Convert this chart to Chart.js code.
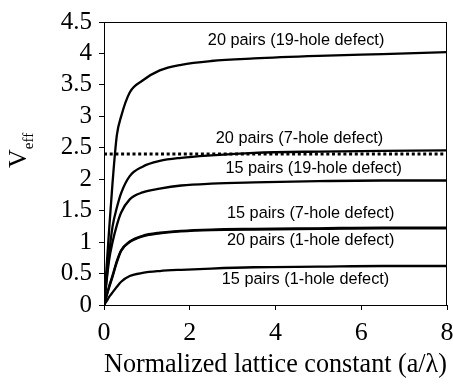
<!DOCTYPE html>
<html>
<head>
<meta charset="utf-8">
<script src="https://cdn.jsdelivr.net/npm/chart.js@4.4.1/dist/chart.umd.min.js"></script>
<style>
    html, body { margin: 0; padding: 0; background: #fff; }
    #wrap { width: 453px; height: 385px; position: relative; }
</style>
</head>
<body>
<div id="wrap"><canvas id="veffChart"></canvas></div>
<script>
// ============================================
// DATA
// ============================================
const lattice = [0, 0.08, 0.12, 0.2, 0.3, 0.4, 0.6, 0.9, 1.3, 1.8, 2.5, 3.5, 5, 6.5, 8];

const veff20p19h = [0, 0.8, 1.2, 1.95, 2.7, 3.0, 3.38, 3.57, 3.73, 3.82, 3.88, 3.92, 3.96, 3.99, 4.02];
const veff20p7h  = [0, 0.55, 0.82, 1.25, 1.55, 1.78, 2.05, 2.2, 2.29, 2.34, 2.38, 2.42, 2.44, 2.45, 2.46];
const veff15p19h = [0, 0.5, 0.72, 1.0, 1.27, 1.47, 1.68, 1.79, 1.85, 1.9, 1.93, 1.95, 1.97, 1.98, 1.98];
const veff15p7h  = [0, 0.19, 0.28, 0.45, 0.68, 0.86, 1.01, 1.1, 1.15, 1.18, 1.2, 1.21, 1.22, 1.23, 1.23];
const veff20p1h  = [0, 0.2, 0.3, 0.47, 0.7, 0.87, 1.0, 1.09, 1.14, 1.17, 1.19, 1.2, 1.21, 1.22, 1.22];
const veff15p1h  = [0, 0.08, 0.13, 0.2, 0.29, 0.37, 0.46, 0.51, 0.54, 0.56, 0.58, 0.6, 0.61, 0.62, 0.62];

const refLineX = [0, 8];
const refLineY = [2.4, 2.4];

// curve labels, placed in data coordinates
const labelText = [
    '20 pairs (19-hole defect)',
    '20 pairs (7-hole defect)',
    '15 pairs (19-hole defect)',
    '15 pairs (7-hole defect)',
    '20 pairs (1-hole defect)',
    '15 pairs (1-hole defect)'
];
const labelX = [4.48, 4.56, 4.89, 4.82, 4.82, 4.70];
const labelY = [4.20, 2.64, 2.17, 1.45, 1.02, 0.41];

const xTicks = [0, 2, 4, 6, 8];
const yTicks = [0, 0.5, 1, 1.5, 2, 2.5, 3, 3.5, 4, 4.5];

// ============================================
// HELPERS
// ============================================
const toPoints = (xs, ys) => xs.map((x, i) => ({ x: x, y: ys[i] }));

const curve = (label, values) => ({
    label: label,
    data: toPoints(lattice, values),
    borderColor: '#000',
    borderWidth: 2.3,
    pointRadius: 0,
    fill: false,
    cubicInterpolationMode: 'monotone'
});

const serif = "'Liberation Serif', 'Times New Roman', serif";

// frame + curve labels + y title with subscript
const decorations = {
    id: 'decorations',
    afterDraw(chart) {
        const { ctx, chartArea, scales } = chart;
        ctx.save();

        // box round the plot
        ctx.strokeStyle = '#000';
        ctx.lineWidth = 1;
        ctx.strokeRect(chartArea.left + 0.5, chartArea.top + 0.5,
            chartArea.right - chartArea.left - 1, chartArea.bottom - chartArea.top);

        // curve labels
        ctx.fillStyle = '#000';
        ctx.font = "16.3px 'Liberation Sans', Arial, sans-serif";
        ctx.textAlign = 'center';
        ctx.textBaseline = 'middle';
        labelText.forEach((t, i) => {
            ctx.fillText(t, scales.x.getPixelForValue(labelX[i]), scales.y.getPixelForValue(labelY[i]));
        });

        // y title: V with subscript eff
        ctx.translate(26, 168);
        ctx.rotate(-Math.PI / 2);
        ctx.textAlign = 'left';
        ctx.textBaseline = 'alphabetic';
        ctx.font = '26px ' + serif;
        ctx.fillText('V', 0, 0);
        const w = ctx.measureText('V').width;
        ctx.font = '15px ' + serif;
        ctx.fillText('eff', w, 7);

        ctx.restore();
    }
};

// ============================================
// CHART
// ============================================
document.addEventListener('DOMContentLoaded', () => {
    const ctx = document.getElementById('veffChart');

    new Chart(ctx, {
        type: 'line',
        data: {
            datasets: [
                curve('20 pairs (19-hole defect)', veff20p19h),
                curve('20 pairs (7-hole defect)', veff20p7h),
                curve('15 pairs (19-hole defect)', veff15p19h),
                curve('15 pairs (7-hole defect)', veff15p7h),
                curve('20 pairs (1-hole defect)', veff20p1h),
                curve('15 pairs (1-hole defect)', veff15p1h),
                {
                    label: 'reference',
                    data: toPoints(refLineX, refLineY),
                    borderColor: '#000',
                    borderWidth: 3,
                    borderDash: [3, 2.7],
                    pointRadius: 0,
                    fill: false
                }
            ]
        },
        options: {
            responsive: true,
            maintainAspectRatio: false,
            animation: false,
            layout: { padding: { top: 22, right: 6, left: 0, bottom: 0 } },
            plugins: {
                legend: { display: false },
                tooltip: { enabled: false }
            },
            scales: {
                x: {
                    type: 'linear',
                    min: 0,
                    max: 8,
                    afterFit: (s) => {
                        s.height = 80;
                        s.paddingLeft = 0;
                        s.paddingRight = 6;
                    },
                    afterBuildTicks: (s) => { s.ticks = xTicks.map(v => ({ value: v })); },
                    grid: { drawOnChartArea: false, drawTicks: true, tickLength: 5, color: '#000' },
                    border: { display: true, color: '#000', width: 1 },
                    ticks: {
                        color: '#000',
                        padding: 8,
                        maxRotation: 0,
                        autoSkip: false,
                        font: { family: serif, size: 26 }
                    },
                    title: {
                        display: true,
                        text: 'Normalized lattice constant (a/λ)',
                        color: '#000',
                        padding: { top: 0, bottom: 4 },
                        font: { family: serif, size: 27.5 }
                    }
                },
                y: {
                    min: 0,
                    max: 4.5,
                    afterFit: (s) => {
                        s.width = 104;
                        s.paddingTop = 0;
                        s.paddingBottom = 0;
                    },
                    afterBuildTicks: (s) => { s.ticks = yTicks.map(v => ({ value: v })); },
                    grid: { drawOnChartArea: false, drawTicks: true, tickLength: 5, color: '#000' },
                    border: { display: true, color: '#000', width: 1 },
                    ticks: {
                        color: '#000',
                        padding: 7,
                        autoSkip: false,
                        callback: (v) => String(v),
                        font: { family: serif, size: 25 }
                    }
                }
            }
        },
        plugins: [decorations]
    });
});
</script>
</body>
</html>
